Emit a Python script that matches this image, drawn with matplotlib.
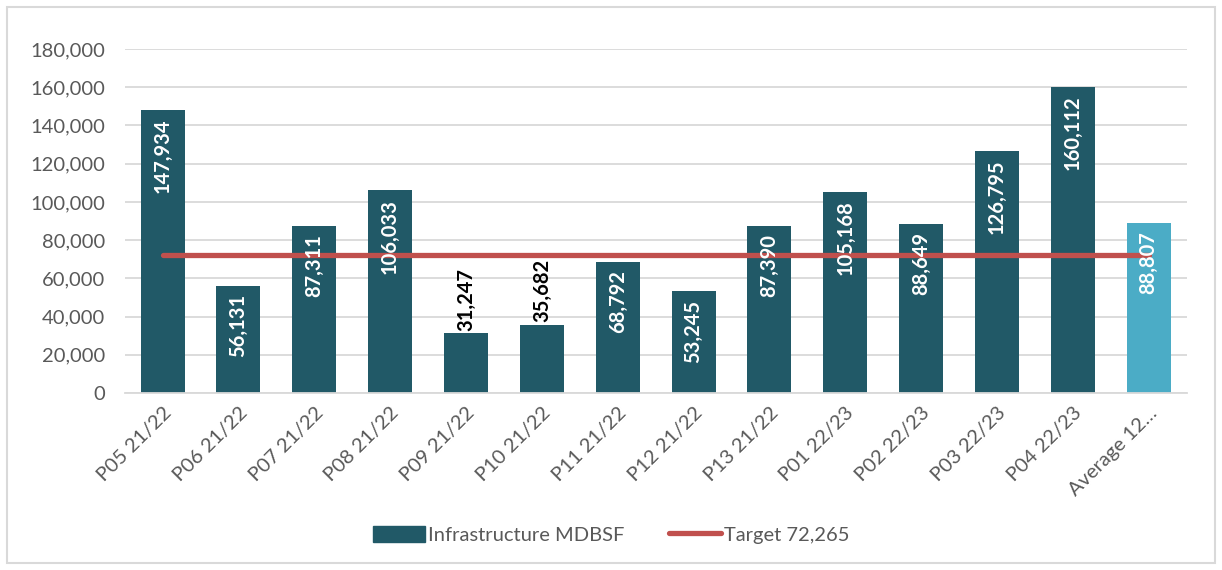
import matplotlib.pyplot as plt
from matplotlib.patches import Patch, Rectangle
from matplotlib.lines import Line2D
from matplotlib.ticker import FuncFormatter

periods = ["P05 21/22", "P06 21/22", "P07 21/22", "P08 21/22", "P09 21/22",
           "P10 21/22", "P11 21/22", "P12 21/22", "P13 21/22", "P01 22/23",
           "P02 22/23", "P03 22/23", "P04 22/23", "Average 12\u2026"]
values = [147934, 56131, 87311, 106033, 31247, 35682, 68792, 53245,
          87390, 105168, 88649, 126795, 160112, 88807]
target = 72265
# labels that sit above the bar instead of inside it
outside = [4, 5]

plt.rcParams['font.family'] = ['Lato', 'DejaVu Sans']
dark = "#215967"
light = "#4BACC6"
red = "#C0504D"
grey = "#595959"

fig = plt.figure(figsize=(12.22, 5.70), dpi=100)
ax = fig.add_axes([0.102, 0.3105, 0.869, 0.6035])
fig.patches.append(Rectangle((0.006, 0.012), 0.988, 0.976, transform=fig.transFigure,
                             fill=False, edgecolor="#D9D9D9", linewidth=1.5))

x = list(range(len(values)))
colors = [dark] * (len(values) - 1) + [light]
ax.bar(x, values, width=0.58, color=colors, zorder=2)
ax.plot([x[0], x[-1]], [target, target], color=red, linewidth=3.8,
        solid_capstyle="round", zorder=3)

for i, v in enumerate(values):
    lab = f"{v:,}"
    if i in outside:
        ax.annotate(lab, (i, v), xytext=(0, 2), textcoords="offset points",
                    rotation=90, ha="center", va="bottom", fontsize=14.5,
                    fontweight="bold", color="black", zorder=4)
    else:
        ax.annotate(lab, (i, v), xytext=(0, -6), textcoords="offset points",
                    rotation=90, ha="center", va="top", fontsize=14.5,
                    fontweight="bold", color="white", zorder=4)

ax.set_xlim(-0.5, len(values) - 0.5)
ax.set_ylim(0, 180000)
ax.set_yticks(range(0, 180001, 20000))
ax.yaxis.set_major_formatter(FuncFormatter(lambda v, p: f"{int(v):,}"))
ax.set_xticks(x)
ax.set_xticklabels(periods, rotation=45, ha="right", rotation_mode="anchor")
ax.tick_params(axis="both", length=0, labelsize=14.5, labelcolor=grey)
ax.tick_params(axis="y", pad=14)
ax.tick_params(axis="x", pad=8)
ax.grid(axis="y", color="#D9D9D9", linewidth=1.3, zorder=0)
ax.set_axisbelow(True)
for s in ["top", "right", "left"]:
    ax.spines[s].set_visible(False)
ax.spines["bottom"].set_color("#D9D9D9")
ax.spines["bottom"].set_linewidth(1.3)

handles = [Patch(color=dark), Line2D([0], [0], color=red, linewidth=3.8,
                                     solid_capstyle="round")]
fig.legend(handles, ["Infrastructure MDBSF", f"Target {target:,}"],
           loc="center", bbox_to_anchor=(0.5, 0.062), ncol=2, frameon=False,
           fontsize=14.5, labelcolor=grey, handlelength=2.6, handleheight=0.9,
           handletextpad=0.15, columnspacing=2.2)

fig.savefig("out.png", dpi=100)
